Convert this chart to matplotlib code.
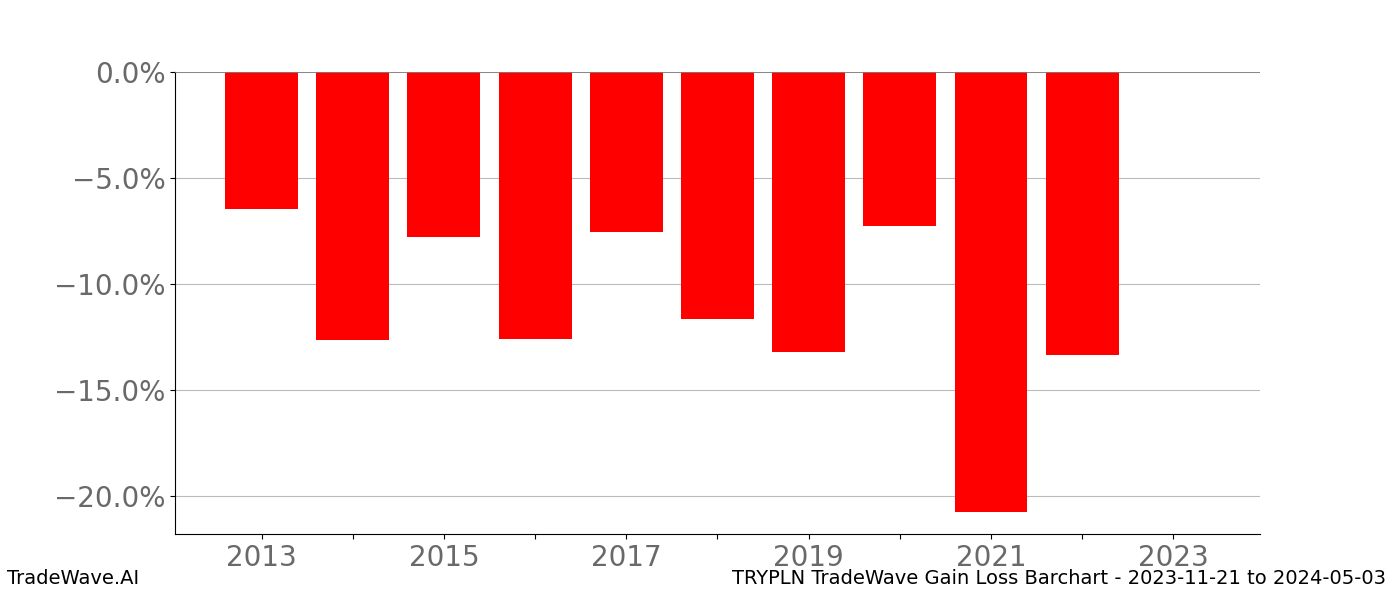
import matplotlib
matplotlib.use("Agg")
import matplotlib.pyplot as plt
from matplotlib.ticker import FuncFormatter

years = [2013, 2014, 2015, 2016, 2017, 2018, 2019, 2020, 2021, 2022]
changes = [-6.46, -12.64, -7.78, -12.59, -7.55, -11.65, -13.21, -7.26, -20.75, -13.35]
tick_years = list(range(2013, 2024))
title = "TRYPLN TradeWave Gain Loss Barchart - 2023-11-21 to 2024-05-03"

fig, ax = plt.subplots(figsize=(14, 6), dpi=100)
fig.subplots_adjust(left=0.125, right=0.9, top=0.88, bottom=0.11)

ax.bar(years, changes, width=0.8, color="red", zorder=2)
ax.axhline(0, color="gray", linewidth=1.2, zorder=3)
ax.grid(axis="y", color="#bbbbbb", linewidth=0.8, zorder=0)

ax.set_xlim(2012.05, 2023.95)
ax.set_ylim(min(changes) * 1.05, 0)

ax.set_xticks(tick_years)
ax.set_xticklabels([str(y) if y % 2 == 1 else "" for y in tick_years])
ax.yaxis.set_major_formatter(FuncFormatter(lambda v, p: f"{v:.1f}%".replace("-", "\u2212")))
ax.tick_params(axis="both", labelsize=20, labelcolor="dimgray")

ax.spines["top"].set_visible(False)
ax.spines["right"].set_visible(False)

fig.text(0.005, 0.02, "TradeWave.AI", fontsize=14, ha="left", va="bottom")
fig.text(0.99, 0.02, title, fontsize=14, ha="right", va="bottom")

fig.savefig("out.png")
